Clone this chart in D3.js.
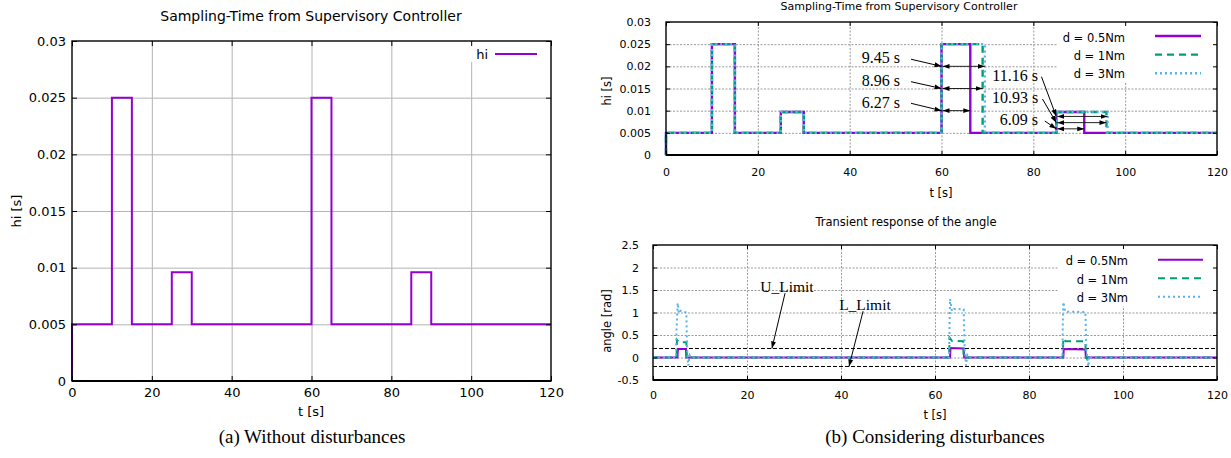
<!DOCTYPE html>
<html>
<head>
<meta charset="utf-8">
<script src="https://cdn.jsdelivr.net/npm/d3@7"></script>
<style>
  html, body { margin: 0; padding: 0; background: #fff; }
  svg { display: block; }
  text { font-family: "DejaVu Sans", sans-serif; fill: #000; }
  .serif { font-family: "Liberation Serif", "Times New Roman", serif; }
</style>
</head>
<body>
<svg id="fig" width="1231" height="458"></svg>
<script>
// ---------------- data ----------------
const timeTicks  = [0, 20, 40, 60, 80, 100, 120];
const hiTicks    = [0, 0.005, 0.01, 0.015, 0.02, 0.025, 0.03];
const angleTicks = [-0.5, 0, 0.5, 1, 1.5, 2, 2.5];

// sampling period chosen by the supervisor, step breakpoints [t, hi]
const hiNominal = [[0, 0], [0, 0.005], [10, 0.025], [15, 0.005], [25, 0.0096], [30, 0.005],
                   [60, 0.025], [65, 0.005], [85, 0.0096], [90, 0.005], [120, 0.005]];
const hiD05 = [[0, 0], [0, 0.005], [10, 0.025], [15, 0.005], [25, 0.0097], [30, 0.005],
               [60, 0.025], [66.27, 0.005], [85, 0.0097], [91.09, 0.005], [120, 0.005]];
const hiD1  = [[0, 0], [0, 0.005], [10, 0.025], [15, 0.005], [25, 0.0097], [30, 0.005],
               [60, 0.025], [68.96, 0.005], [85, 0.0097], [95.93, 0.005], [120, 0.005]];
const hiD3  = [[0, 0], [0, 0.005], [10, 0.025], [15, 0.005], [25, 0.0097], [30, 0.005],
               [60, 0.025], [69.45, 0.005], [85, 0.0097], [96.16, 0.005], [120, 0.005]];

const seriesNames = ["d = 0.5Nm", "d = 1Nm", "d = 3Nm"];

// hold intervals of the enlarged sampling period [s]
const holdStart = [60, 60, 60, 85, 85, 85];
const holdSpan  = [9.45, 8.96, 6.27, 11.16, 10.93, 6.09];
const holdLevel = [0.02, 0.015, 0.01, 0.0087, 0.0073, 0.0059];

// angle response [t, rad]
const angleD05 = [[0, 0], [5.2, 0], [5.3, 0.19], [7.0, 0.19], [7.1, 0], [63.2, 0], [63.3, 0.21],
                  [66.1, 0.2], [66.2, 0], [87.3, 0], [87.4, 0.19], [92.0, 0.18], [92.1, 0], [120, 0]];
const angleD1  = [[0, 0], [5.0, 0], [5.1, 0.39], [5.5, 0.34], [7.1, 0.34], [7.2, 0], [7.4, -0.03],
                  [7.6, 0], [63.0, 0], [63.1, 0.44], [63.6, 0.37], [66.0, 0.36], [66.1, 0],
                  [66.3, -0.03], [66.5, 0], [87.2, 0], [87.3, 0.43], [87.8, 0.36], [92.0, 0.36],
                  [92.1, 0], [92.3, -0.03], [92.5, 0], [120, 0]];
const angleD3  = [[0, 0], [4.9, 0], [5.0, 0.6], [5.25, 1.21], [5.5, 0.98], [5.9, 1.04], [7.1, 1.0],
                  [7.25, 0.2], [7.5, -0.18], [7.8, 0.05], [8.1, 0], [63.0, 0], [63.1, 0.8],
                  [63.2, 1.3], [63.6, 1.03], [64.0, 1.08], [66.1, 1.07], [66.3, 0.2], [66.6, -0.18],
                  [66.9, 0.05], [67.2, 0], [87.1, 0], [87.2, 0.8], [87.3, 1.23], [87.7, 1.02],
                  [92.0, 1.01], [92.2, 0.2], [92.6, -0.2], [92.9, 0.04], [93.2, 0], [120, 0]];

const angleLimits = [0.2, -0.2];
const limitNames  = ["U_Limit", "L_Limit"];

// ---------------- styling ----------------
const COLORS = ["#9400d3", "#009e73", "#56b4e9"];
const DASHES = [null, "7,5", "2,3"];
const fmt = d => String(+d.toFixed(3));

const svg = d3.select("#fig");

const defs = svg.append("defs");
defs.append("marker")
  .attr("id", "head").attr("viewBox", "0 0 10 10")
  .attr("refX", 10).attr("refY", 5)
  .attr("markerWidth", 7).attr("markerHeight", 7)
  .attr("orient", "auto-start-reverse")
  .append("path").attr("d", "M0,1.5 L10,5 L0,8.5 z").attr("fill", "#000");

// ---------- generic gnuplot-style panel ----------
function panel(p) {
  const g = svg.append("g");
  const x = d3.scaleLinear().domain([0, 120]).range([p.left, p.right]);
  const y = d3.scaleLinear().domain(p.yDomain).range([p.bottom, p.top]);
  const w = p.right - p.left, h = p.bottom - p.top;

  // grid
  const grid = g.append("g");
  grid.append("g").attr("transform", `translate(0,${p.bottom})`)
    .call(d3.axisBottom(x).tickValues(timeTicks.slice(1, -1)).tickSize(-h).tickFormat(""));
  grid.append("g").attr("transform", `translate(${p.left},0)`)
    .call(d3.axisLeft(y).tickValues(p.yTicks.slice(1, -1)).tickSize(-w).tickFormat(""));
  grid.selectAll(".domain").remove();
  grid.selectAll("line")
    .attr("stroke", p.gridColor).attr("stroke-width", 1)
    .attr("stroke-dasharray", p.gridDash);

  // key backdrop
  if (p.key) {
    g.append("rect").attr("x", p.key[0]).attr("y", p.key[1])
      .attr("width", p.key[2]).attr("height", p.key[3]).attr("fill", "#fff");
  }

  const plot = g.append("g");
  const over = g.append("g");

  // ticks (inward, mirrored) and labels
  const axes = over.append("g").attr("font-size", p.tickFont);
  const ax = (gen, tr, vals, labelled, pad) => {
    const a = axes.append("g").attr("transform", tr)
      .call(gen.tickValues(vals).tickSize(-p.tickLen).tickPadding(pad)
        .tickFormat(labelled ? fmt : ""));
    a.select(".domain").remove();
    a.selectAll("line").attr("stroke", "#000").attr("stroke-width", 1);
    a.attr("font-family", null).attr("font-size", null);
    return a;
  };
  ax(d3.axisBottom(x), `translate(0,${p.bottom})`, timeTicks, true, p.xPad);
  ax(d3.axisTop(x), `translate(0,${p.top})`, timeTicks, false, 0);
  ax(d3.axisLeft(y), `translate(${p.left},0)`, p.yTicks, true, p.yPad);
  ax(d3.axisRight(y), `translate(${p.right},0)`, p.yTicks, false, 0);

  over.append("rect")
    .attr("x", p.left).attr("y", p.top).attr("width", w).attr("height", h)
    .attr("fill", "none").attr("stroke", "#000").attr("stroke-width", 1.4);
  over.append("line")
    .attr("x1", p.left).attr("x2", p.right).attr("y1", p.bottom).attr("y2", p.bottom)
    .attr("stroke", "#000").attr("stroke-width", 2);

  return { g, plot, over, x, y };
}

function legendEntry(layer, label, textX, baseY, lineX1, lineX2, lineY, i, font, width) {
  layer.append("text").attr("x", textX).attr("y", baseY)
    .attr("text-anchor", "end").attr("font-size", font).text(label);
  layer.append("line")
    .attr("x1", lineX1).attr("x2", lineX2).attr("y1", lineY).attr("y2", lineY)
    .attr("stroke", COLORS[i]).attr("stroke-width", width)
    .attr("stroke-dasharray", DASHES[i]);
}

const stepLine = (x, y) => d3.line().x(d => x(d[0])).y(d => y(d[1])).curve(d3.curveStepAfter);
const plainLine = (x, y) => d3.line().x(d => x(d[0])).y(d => y(d[1]));

// ================= (a) without disturbances =================
{
  const P = panel({
    left: 72, right: 551, top: 41, bottom: 381,
    yDomain: [0, 0.03], yTicks: hiTicks,
    gridColor: "#b4b4b4", gridDash: null,
    tickFont: 13, tickLen: 5, xPad: 7, yPad: 6,
    key: [468, 42, 82, 20]
  });
  P.plot.append("path").datum(hiNominal)
    .attr("d", stepLine(P.x, P.y))
    .attr("fill", "none").attr("stroke", COLORS[0]).attr("stroke-width", 2);

  legendEntry(P.over, "hi", 488, 58.5, 495, 537, 54, 0, 13, 2);

  svg.append("text").attr("x", 311).attr("y", 21).attr("text-anchor", "middle")
    .attr("font-size", 14).text("Sampling-Time from Supervisory Controller");
  svg.append("text").attr("x", 311).attr("y", 416).attr("text-anchor", "middle")
    .attr("font-size", 13).text("t [s]");
  svg.append("text").attr("transform", "translate(21,211) rotate(-90)")
    .attr("text-anchor", "middle").attr("font-size", 13).text("hi [s]");
  svg.append("text").attr("class", "serif").attr("x", 312).attr("y", 443)
    .attr("text-anchor", "middle").attr("font-size", 19).text("(a) Without disturbances");
}

// ================= (b) top: sampling time under disturbance =================
{
  const P = panel({
    left: 666, right: 1217, top: 22, bottom: 155,
    yDomain: [0, 0.03], yTicks: hiTicks,
    gridColor: "#9a9a9a", gridDash: "2,1.5",
    tickFont: 11, tickLen: 4, xPad: 13, yPad: 15,
    key: [1057, 23, 159, 59]
  });
  [hiD05, hiD1, hiD3].forEach((s, i) => {
    P.plot.append("path").datum(s)
      .attr("d", stepLine(P.x, P.y))
      .attr("fill", "none").attr("stroke", COLORS[i]).attr("stroke-width", 2.4)
      .attr("stroke-dasharray", DASHES[i]);
  });

  // hold-interval annotations: [label end t, label mid hi, tail t, tail hi]
  const notePos = [[50.96, 0.0218, 53.36, 0.0216], [50.96, 0.01676, 53.36, 0.01653],
                   [50.96, 0.0118, 53.36, 0.01166], [81.0, 0.01789, 81.77, 0.01766],
                   [81.07, 0.01293, 81.99, 0.01263], [81.0, 0.0079, 82.49, 0.00767]];
  const notes = P.over.append("g");
  holdSpan.forEach((span, i) => {
    const lv = holdLevel[i], t0 = holdStart[i];
    notes.append("line")
      .attr("x1", P.x(t0) + 1).attr("x2", P.x(t0 + span))
      .attr("y1", P.y(lv)).attr("y2", P.y(lv))
      .attr("stroke", "#222").attr("stroke-width", 1)
      .attr("marker-start", "url(#head)").attr("marker-end", "url(#head)");
    const n = notePos[i];
    notes.append("line")
      .attr("x1", P.x(n[2])).attr("y1", P.y(n[3]))
      .attr("x2", P.x(t0)).attr("y2", P.y(lv))
      .attr("stroke", "#000").attr("stroke-width", 1)
      .attr("marker-end", "url(#head)");
    notes.append("text").attr("class", "serif")
      .attr("x", P.x(n[0])).attr("y", P.y(n[1])).attr("dy", "0.32em")
      .attr("text-anchor", "end").attr("font-size", 16)
      .text(span.toFixed(2) + " s");
  });

  seriesNames.forEach((nm, i) =>
    legendEntry(P.over, nm, 1125, 41.7 + i * 18.3, 1155, 1201, 36 + i * 18.6, i, 11.5, 2.4));

  svg.append("text").attr("x", 899).attr("y", 10).attr("text-anchor", "middle")
    .attr("font-size", 11).text("Sampling-Time from Supervisory Controller");
  svg.append("text").attr("x", 941).attr("y", 197).attr("text-anchor", "middle")
    .attr("font-size", 11.5).text("t [s]");
  svg.append("text").attr("transform", "translate(611,91) rotate(-90)")
    .attr("text-anchor", "middle").attr("font-size", 11.5).text("hi [s]");
}

// ================= (b) bottom: angle transient =================
{
  const P = panel({
    left: 653, right: 1217, top: 245, bottom: 380,
    yDomain: [-0.5, 2.5], yTicks: angleTicks,
    gridColor: "#9a9a9a", gridDash: "2,1.5",
    tickFont: 11, tickLen: 4, xPad: 11, yPad: 14,
    key: [1058, 246, 158, 60]
  });
  // limits
  angleLimits.forEach(v => {
    P.plot.append("line")
      .attr("x1", P.x(0)).attr("x2", P.x(120)).attr("y1", P.y(v)).attr("y2", P.y(v))
      .attr("stroke", "#000").attr("stroke-width", 1).attr("stroke-dasharray", "4,2");
  });
  [angleD05, angleD1, angleD3].forEach((s, i) => {
    P.plot.append("path").datum(s)
      .attr("d", plainLine(P.x, P.y))
      .attr("fill", "none").attr("stroke", COLORS[i]).attr("stroke-width", 2)
      .attr("stroke-dasharray", DASHES[i]);
  });

  // limit labels: [label centre t, label centre rad, tail t, tail rad, head t]
  const limitPos = [[28.5, 1.56, 28.1, 1.43, 25.3], [45.1, 1.17, 44.7, 1.03, 41.7]];
  limitNames.forEach((nm, i) => {
    const q = limitPos[i];
    P.over.append("line")
      .attr("x1", P.x(q[2])).attr("y1", P.y(q[3]))
      .attr("x2", P.x(q[4])).attr("y2", P.y(angleLimits[i]))
      .attr("stroke", "#000").attr("stroke-width", 1)
      .attr("marker-end", "url(#head)");
    P.over.append("text").attr("class", "serif")
      .attr("x", P.x(q[0])).attr("y", P.y(q[1])).attr("dy", "0.32em")
      .attr("text-anchor", "middle").attr("font-size", 15.5).text(nm);
  });

  seriesNames.forEach((nm, i) =>
    legendEntry(P.over, nm, 1128, 265 + i * 18.6, 1158, 1203, 259.7 + i * 18.5, i, 11.5, 2));

  svg.append("text").attr("x", 906).attr("y", 225.5).attr("text-anchor", "middle")
    .attr("font-size", 11.5).text("Transient response of the angle");
  svg.append("text").attr("x", 935).attr("y", 419).attr("text-anchor", "middle")
    .attr("font-size", 11.5).text("t [s]");
  svg.append("text").attr("transform", "translate(611,321) rotate(-90)")
    .attr("text-anchor", "middle").attr("font-size", 11.5).text("angle [rad]");
  svg.append("text").attr("class", "serif").attr("x", 935).attr("y", 443)
    .attr("text-anchor", "middle").attr("font-size", 19).text("(b) Considering disturbances");
}
</script>
</body>
</html>
